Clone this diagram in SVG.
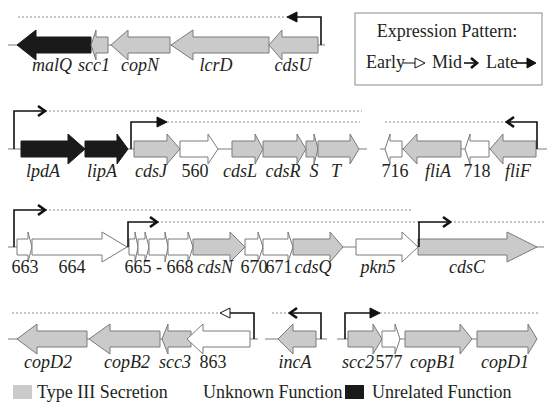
<svg xmlns="http://www.w3.org/2000/svg" width="550" height="411" viewBox="0 0 550 411">
<style>
.t3{fill:#cacaca;stroke:#7a7a7a;stroke-width:1}
.unk{fill:#ffffff;stroke:#7a7a7a;stroke-width:1}
.unr{fill:#1a1a1a;stroke:#1a1a1a;stroke-width:1}
.bb{stroke:#a8a8a8;stroke-width:1.5;fill:none}
.dash{stroke:#8a8a8a;stroke-width:1;stroke-dasharray:2,2;fill:none}
.prom{stroke:#111;stroke-width:1.6;fill:none}
.chev{stroke:#111;stroke-width:2.6;fill:none;stroke-linejoin:miter}
.late{fill:#111;stroke:#111;stroke-width:1}
.early{fill:#fff;stroke:#111;stroke-width:1}
text{font-family:"Liberation Serif","Times New Roman",serif;font-size:18px;fill:#231f20}
.g{font-style:italic}
.m{text-anchor:middle}
</style>
<g id="connectors">
<line class="bb" x1="8" y1="45" x2="325" y2="45"/>
<line class="bb" x1="8" y1="149" x2="367" y2="149"/>
<line class="bb" x1="380" y1="149" x2="547" y2="149"/>
<line class="bb" x1="8" y1="247" x2="544" y2="247"/>
<line class="bb" x1="8" y1="339" x2="258" y2="339"/>
<line class="bb" x1="265" y1="339" x2="327" y2="339"/>
<line class="bb" x1="337" y1="339" x2="537" y2="339"/>
<line class="dash" x1="18" y1="17" x2="287" y2="17"/>
<line class="dash" x1="45" y1="111" x2="362" y2="111"/>
<line class="dash" x1="167" y1="122" x2="360" y2="122"/>
<line class="dash" x1="385" y1="122" x2="507" y2="122"/>
<line class="dash" x1="45" y1="210" x2="413" y2="210"/>
<line class="dash" x1="157" y1="222" x2="419" y2="222"/>
<line class="dash" x1="450" y1="222" x2="544" y2="222"/>
<line class="dash" x1="12" y1="313" x2="220" y2="313"/>
<line class="dash" x1="272" y1="313" x2="290" y2="313"/>
<line class="dash" x1="380" y1="313" x2="538" y2="313"/>
</g>
<g id="row1">
<polygon id="malQ" class="unr" points="17,45 36,30 36,37 91,37 91,53 36,53 36,60"/>
<polygon id="scc1" class="t3" points="91,45 96,30 96,37 108,37 108,53 96,53 96,60"/>
<polygon id="copN" class="t3" points="111,45 128,30 128,37 170,37 170,53 128,53 128,60"/>
<polygon id="lcrD" class="t3" points="171,45 193,30 193,37 269,37 269,53 193,53 193,60"/>
<polygon id="cdsU" class="t3" points="269,45 282,30 282,37 318,37 318,53 282,53 282,60"/>
<g id="prom-cdsU"><path class="prom" d="M321,45 V17 H296"/><polygon class="late" points="287,17 297,12 297,22"/></g>
<text class="g m" x="52" y="71">malQ</text>
<text class="g m" x="94" y="71">scc1</text>
<text class="g m" x="140" y="71">copN</text>
<text class="g m" x="216" y="71">lcrD</text>
<text class="g m" x="293" y="71">cdsU</text>
</g>
<g id="legend-expression">
<rect x="355" y="13" width="187" height="72" fill="#fff" stroke="#8a8a8a" stroke-width="1"/>
<text class="m" x="447" y="37">Expression Pattern:</text>
<text x="366" y="68">Early</text>
<line x1="403" y1="63" x2="415" y2="63" stroke="#111" stroke-width="1"/>
<polygon class="early" points="425,63 415,58 415,68"/>
<text x="432" y="68">Mid</text>
<line x1="464" y1="63" x2="475" y2="63" stroke="#111" stroke-width="1.6"/>
<path class="chev" d="M471,58 L477,63 L471,68"/>
<text x="486" y="68">Late</text>
<line x1="517" y1="63" x2="528" y2="63" stroke="#111" stroke-width="1.6"/>
<polygon class="late" points="536,63 527,58 527,68"/>
</g>
<g id="row2">
<polygon id="lpdA" class="unr" points="21,141 68,141 68,134 85,149 68,164 68,157 21,157"/>
<polygon id="lipA" class="unr" points="85,141 117,141 117,134 128,149 117,164 117,157 85,157"/>
<polygon id="cdsJ" class="t3" points="134,141 167,141 167,134 180,149 167,164 167,157 134,157"/>
<polygon id="g560" class="unk" points="180,141 208,141 208,134 218,149 208,164 208,157 180,157"/>
<polygon id="cdsL" class="t3" points="232,141 255,141 255,134 263,149 255,164 255,157 232,157"/>
<polygon id="cdsR" class="t3" points="263,141 297,141 297,134 306,149 297,164 297,157 263,157"/>
<polygon id="cdsS" class="t3" points="306,141 314,141 314,134 318,149 314,164 314,157 306,157"/>
<polygon id="cdsT" class="t3" points="318,141 350,141 350,134 359,149 350,164 350,157 318,157"/>
<g id="prom-lpdA"><path class="prom" d="M14,149 V111 H43"/><path class="chev" d="M38,106 L45,111 L38,116"/></g>
<g id="prom-cdsJ"><path class="prom" d="M131,149 V122 H158"/><polygon class="late" points="167,122 157,117 157,127"/></g>
<polygon id="g716" class="unk" points="385,149 390,134 390,141 402,141 402,157 390,157 390,164"/>
<polygon id="fliA" class="t3" points="403,149 417,134 417,141 461,141 461,157 417,157 417,164"/>
<polygon id="g718" class="unk" points="465,149 470,134 470,141 489,141 489,157 470,157 470,164"/>
<polygon id="fliF" class="t3" points="490,149 503,134 503,141 536,141 536,157 503,157 503,164"/>
<g id="prom-fliF"><path class="prom" d="M537,149 V122 H509"/><path class="chev" d="M514,117 L507,122 L514,127"/></g>
<text class="g m" x="43" y="177">lpdA</text>
<text class="g m" x="102" y="177">lipA</text>
<text class="g m" x="151" y="177">cdsJ</text>
<text class="m" x="195" y="177">560</text>
<text class="g m" x="240" y="177">cdsL</text>
<text class="g m" x="283" y="177">cdsR</text>
<text class="g m" x="314" y="177">S</text>
<text class="g m" x="336" y="177">T</text>
<text class="m" x="395" y="177">716</text>
<text class="g m" x="438" y="177">fliA</text>
<text class="m" x="477" y="177">718</text>
<text class="g m" x="518" y="177">fliF</text>
</g>
<g id="row3">
<polygon id="g663" class="unk" points="17,239 28,239 28,232 32,247 28,262 28,255 17,255"/>
<polygon id="g664" class="unk" points="32,239 102,239 102,232 127,247 102,262 102,255 32,255"/>
<polygon id="g665" class="unk" points="129,239 135,239 135,232 138,247 135,262 135,255 129,255"/>
<polygon id="g666" class="unk" points="138,239 145,239 145,232 149,247 145,262 145,255 138,255"/>
<polygon id="g667" class="unk" points="149,239 165,239 165,232 168,247 165,262 165,255 149,255"/>
<polygon id="g668" class="unk" points="168,239 188,239 188,232 193,247 188,262 188,255 168,255"/>
<polygon id="cdsN" class="t3" points="193,239 230,239 230,232 245,247 230,262 230,255 193,255"/>
<polygon id="g670" class="unk" points="245,239 258,239 258,232 263,247 258,262 258,255 245,255"/>
<polygon id="g671" class="unk" points="263,239 288,239 288,232 293,247 288,262 288,255 263,255"/>
<polygon id="cdsQ" class="t3" points="293,239 330,239 330,232 343,247 330,262 330,255 293,255"/>
<polygon id="pkn5" class="unk" points="356,239 402,239 402,232 418,247 402,262 402,255 356,255"/>
<polygon id="cdsC" class="t3" points="418,239 507,239 507,232 537,247 507,262 507,255 418,255"/>
<g id="prom-663"><path class="prom" d="M14,247 V210 H43"/><path class="chev" d="M38,205 L45,210 L38,215"/></g>
<g id="prom-665"><path class="prom" d="M128,247 V222 H155"/><path class="chev" d="M150,217 L157,222 L150,227"/></g>
<g id="prom-cdsC"><path class="prom" d="M419,247 V222 H448"/><path class="chev" d="M443,217 L450,222 L443,227"/></g>
<text class="m" x="25" y="273">663</text>
<text class="m" x="72" y="273">664</text>
<text class="m" x="159" y="273">665 - 668</text>
<text class="g m" x="215" y="273">cdsN</text>
<text class="m" x="254" y="273">670</text>
<text class="m" x="279" y="273">671</text>
<text class="g m" x="313" y="273">cdsQ</text>
<text class="g m" x="378" y="273">pkn5</text>
<text class="g m" x="467" y="273">cdsC</text>
</g>
<g id="row4">
<polygon id="copD2" class="t3" points="17,339 37,324 37,331 87,331 87,347 37,347 37,354"/>
<polygon id="copB2" class="t3" points="89,339 110,324 110,331 160,331 160,347 110,347 110,354"/>
<polygon id="scc3" class="t3" points="162,339 168,324 168,331 191,331 191,347 168,347 168,354"/>
<polygon id="g863" class="unk" points="187,339 203,324 203,331 250,331 250,347 203,347 203,354"/>
<g id="prom-863"><path class="prom" d="M254,339 V313 H230"/><polygon class="early" points="220,313 230,308 230,318"/></g>
<polygon id="incA" class="t3" points="278,339 293,324 293,331 316,331 316,347 293,347 293,354"/>
<g id="prom-incA"><path class="prom" d="M321,339 V313 H292"/><path class="chev" d="M297,308 L290,313 L297,318"/></g>
<polygon id="scc2" class="t3" points="348,331 373,331 373,324 382,339 373,354 373,347 348,347"/>
<polygon id="g577" class="unk" points="382,331 395,331 395,324 400,339 395,354 395,347 382,347"/>
<polygon id="copB1" class="t3" points="405,331 460,331 460,324 472,339 460,354 460,347 405,347"/>
<polygon id="copD1" class="t3" points="477,331 528,331 528,324 537,339 528,354 528,347 477,347"/>
<g id="prom-scc2"><path class="prom" d="M345,339 V313 H371"/><polygon class="late" points="380,313 370,308 370,318"/></g>
<text class="g m" x="48" y="368">copD2</text>
<text class="g m" x="127" y="368">copB2</text>
<text class="g m" x="175" y="368">scc3</text>
<text class="m" x="213" y="368">863</text>
<text class="g m" x="295" y="368">incA</text>
<text class="g m" x="358" y="368">scc2</text>
<text class="m" x="389" y="368">577</text>
<text class="g m" x="433" y="368">copB1</text>
<text class="g m" x="505" y="368">copD1</text>
</g>
<g id="legend-function">
<rect x="13" y="385" width="19" height="14" fill="#cacaca"/>
<text x="37" y="398">Type III Secretion</text>
<rect x="180" y="385" width="19" height="14" fill="#fff"/>
<text x="203" y="398">Unknown Function</text>
<rect x="345" y="385" width="19" height="14" fill="#1a1a1a"/>
<text x="372" y="398">Unrelated Function</text>
</g>
</svg>
